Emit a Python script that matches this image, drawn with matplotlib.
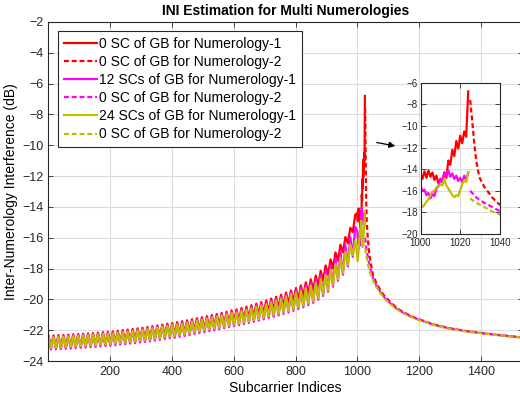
import matplotlib
matplotlib.use("Agg")
import matplotlib.pyplot as plt
import numpy as np

plt.rcParams['font.family'] = ['Liberation Sans', 'DejaVu Sans']

# peaks / troughs of the solid curves (subcarriers 1..993)
peak_sc = np.arange(1, 1000, 16)
trough_sc = np.arange(9, 990, 16)

red_hi = [-22.35, -22.34, -22.32, -22.31, -22.29, -22.27, -22.25, -22.23, -22.21, -22.19,
          -22.16, -22.13, -22.11, -22.08, -22.04, -22.00, -21.96, -21.92, -21.88, -21.84,
          -21.79, -21.74, -21.69, -21.64, -21.58, -21.53, -21.48, -21.42, -21.36, -21.29,
          -21.22, -21.16, -21.09, -21.02, -20.95, -20.88, -20.80, -20.72, -20.65, -20.56,
          -20.47, -20.38, -20.28, -20.18, -20.07, -19.95, -19.83, -19.70, -19.56, -19.42,
          -19.27, -19.10, -18.90, -18.70, -18.45, -18.15, -17.80, -17.40, -16.95, -16.45,
          -15.95, -15.35, -14.50]
red_lo = [-23.14, -23.13, -23.12, -23.10, -23.08, -23.06, -23.04, -23.02, -23.00, -22.98,
          -22.95, -22.92, -22.90, -22.86, -22.82, -22.78, -22.74, -22.70, -22.66, -22.62,
          -22.57, -22.52, -22.47, -22.41, -22.36, -22.31, -22.25, -22.19, -22.13, -22.06,
          -21.99, -21.93, -21.86, -21.79, -21.72, -21.64, -21.56, -21.49, -21.41, -21.32,
          -21.23, -21.13, -21.03, -20.93, -20.81, -20.69, -20.57, -20.43, -20.29, -20.15,
          -19.99, -19.80, -19.60, -19.38, -19.10, -18.78, -18.40, -17.98, -17.50, -16.95,
          -16.37, -15.63]
mag_hi = [-22.41, -22.40, -22.38, -22.37, -22.35, -22.33, -22.31, -22.29, -22.27, -22.25,
          -22.22, -22.19, -22.17, -22.15, -22.11, -22.07, -22.03, -21.99, -21.95, -21.91,
          -21.86, -21.81, -21.76, -21.71, -21.65, -21.60, -21.57, -21.51, -21.45, -21.38,
          -21.31, -21.25, -21.18, -21.11, -21.04, -20.97, -20.89, -20.81, -20.76, -20.67,
          -20.58, -20.49, -20.39, -20.29, -20.20, -20.08, -19.96, -19.83, -19.69, -19.55,
          -19.42, -19.27, -19.09, -18.90, -18.68, -18.41, -18.10, -17.74, -17.34, -16.90,
          -16.47, -15.95, -15.30]
mag_lo = [-23.25, -23.24, -23.23, -23.21, -23.19, -23.17, -23.15, -23.13, -23.11, -23.09,
          -23.06, -23.03, -23.01, -22.98, -22.94, -22.91, -22.87, -22.84, -22.80, -22.77,
          -22.72, -22.68, -22.63, -22.58, -22.53, -22.49, -22.43, -22.38, -22.32, -22.26,
          -22.19, -22.14, -22.07, -22.01, -21.94, -21.87, -21.80, -21.74, -21.68, -21.61,
          -21.54, -21.46, -21.38, -21.30, -21.21, -21.13, -21.05, -20.95, -20.85, -20.75,
          -20.64, -20.52, -20.38, -20.23, -20.03, -19.78, -19.50, -19.18, -18.80, -18.40,
          -17.87, -17.23]
oli_hi = [-22.46, -22.45, -22.43, -22.42, -22.40, -22.38, -22.36, -22.34, -22.32, -22.30,
          -22.27, -22.24, -22.22, -22.21, -22.17, -22.13, -22.09, -22.05, -22.01, -21.97,
          -21.92, -21.87, -21.82, -21.77, -21.71, -21.66, -21.64, -21.58, -21.52, -21.45,
          -21.38, -21.32, -21.25, -21.18, -21.11, -21.04, -20.96, -20.88, -20.85, -20.76,
          -20.67, -20.58, -20.48, -20.38, -20.32, -20.20, -20.08, -19.95, -19.81, -19.67,
          -19.57, -19.43, -19.27, -19.10, -18.91, -18.68, -18.40, -18.08, -17.71, -17.30,
          -16.90, -16.45, -16.20]
oli_lo = [-23.15, -23.14, -23.13, -23.11, -23.09, -23.07, -23.05, -23.03, -23.01, -22.99,
          -22.96, -22.93, -22.91, -22.88, -22.84, -22.81, -22.77, -22.74, -22.70, -22.67,
          -22.62, -22.58, -22.53, -22.48, -22.43, -22.39, -22.33, -22.28, -22.22, -22.16,
          -22.09, -22.04, -21.97, -21.91, -21.84, -21.77, -21.70, -21.64, -21.58, -21.51,
          -21.44, -21.36, -21.28, -21.20, -21.11, -21.03, -20.95, -20.85, -20.75, -20.65,
          -20.54, -20.42, -20.28, -20.13, -19.93, -19.68, -19.40, -19.08, -18.70, -18.30,
          -17.77, -17.13]

# band edge, subcarrier by subcarrier (from the zoomed inset)
edge_sc = np.arange(1000, 1025)
red_edge = [-14.4, -14.9, -14.2, -14.8, -14.1, -14.7, -14.3, -15.0, -14.6, -15.3,
            -14.9, -15.2, -14.3, -14.8, -13.2, -13.6, -12.2, -12.8, -11.4, -12.1,
            -10.9, -11.6, -10.5, -11.0, -6.8]
mag_edge = [-15.6, -16.0, -15.9, -16.4, -16.2, -16.7, -16.3, -16.5, -15.8, -15.6,
            -14.9, -15.0, -14.3, -14.6, -14.1, -14.7, -14.4, -14.9, -14.6, -15.1,
            -14.8, -15.2, -14.6, -15.0, -14.3]
oli_edge = [-17.3, -17.5, -17.3, -17.0, -16.8, -16.4, -16.1, -16.0, -15.7, -15.6,
            -15.4, -15.5, -14.9, -15.5, -15.8, -16.1, -16.4, -16.6, -16.4, -16.5,
            -15.9, -15.4, -15.0, -15.2, -14.3]

# numerology-2 (dashed) curves
n2_sc = [1025, 1026, 1027, 1028, 1029, 1030, 1032, 1034, 1036, 1038, 1040, 1050, 1060,
         1075, 1090, 1110, 1130, 1150, 1175, 1200, 1250, 1300, 1350, 1400, 1450, 1500, 1536]
red_n2 = [-7.6, -9.5, -11.5, -13.2, -14.2, -14.9, -15.6, -16.1, -16.6, -17.0, -17.3, -18.4,
          -18.9, -19.45, -19.85, -20.25, -20.6, -20.85, -21.1, -21.3, -21.65, -21.88, -22.05,
          -22.18, -22.3, -22.4, -22.47]
mag_n2 = [-16.0, -16.2, -16.4, -16.6, -16.75, -16.9, -17.1, -17.3, -17.5, -17.7, -17.9, -18.6,
          -19.05, -19.55, -19.95, -20.32, -20.65, -20.9, -21.13, -21.33, -21.67, -21.9, -22.06,
          -22.19, -22.31, -22.41, -22.48]
oli_n2 = [-16.7, -16.85, -17.0, -17.1, -17.2, -17.3, -17.5, -17.7, -17.9, -18.05, -18.2, -18.75,
          -19.15, -19.62, -20.0, -20.37, -20.68, -20.93, -21.16, -21.35, -21.69, -21.92, -22.08,
          -22.2, -22.32, -22.42, -22.49]

labels = ['0 SC of GB for Numerology-1', '0 SC of GB for Numerology-2',
          '12 SCs of GB for Numerology-1', '0 SC of GB for Numerology-2',
          '24 SCs of GB for Numerology-1', '0 SC of GB for Numerology-2']


def zigzag(hi, lo, edge):
    x = np.empty(len(peak_sc) + len(trough_sc))
    y = np.empty_like(x)
    x[0::2], x[1::2] = peak_sc, trough_sc
    y[0::2], y[1::2] = hi, lo
    return np.concatenate([x, edge_sc]), np.concatenate([y, edge])


series = [
    (zigzag(red_hi, red_lo, red_edge), (n2_sc, red_n2), 'red'),
    (zigzag(mag_hi, mag_lo, mag_edge), (n2_sc, mag_n2), 'magenta'),
    (zigzag(oli_hi, oli_lo, oli_edge), (n2_sc, oli_n2), '#bfbf00'),
]

axcol = '#262626'


def style(ax, size):
    ax.grid(True, color='#dcdcdc', lw=0.8)
    ax.set_axisbelow(True)
    ax.tick_params(direction='in', top=True, right=True, labelsize=size,
                   colors=axcol, length=3.5, width=0.6)
    for s in ax.spines.values():
        s.set_color(axcol)
        s.set_linewidth(0.8)


fig = plt.figure(figsize=(5.2, 4.05), dpi=100)
ax = fig.add_axes([48.2 / 520, 44 / 405, 475 / 520, 339 / 405])
lw = 1.6
for (sx, sy), (dx, dy), c in series:
    ax.plot(sx, sy, color=c, lw=lw)
    ax.plot(dx, dy, color=c, lw=lw, dashes=(2.2, 1.3))
ax.set_xlim(0, 1536)
ax.set_ylim(-24, -2)
ax.set_xticks([200, 400, 600, 800, 1000, 1200, 1400])
ax.set_yticks(np.arange(-24, -1, 2))
style(ax, 9)
ax.set_title('INI Estimation for Multi Numerologies', fontsize=10, fontweight='bold', pad=5)
ax.set_xlabel('Subcarrier Indices', fontsize=10, labelpad=2)
ax.set_ylabel('Inter-Numerology Interference (dB)', fontsize=10, labelpad=3)

leg = ax.legend(labels, loc='upper left', bbox_to_anchor=(58 / 520, 1 - 31 / 405),
                bbox_transform=fig.transFigure, borderaxespad=0, fontsize=10,
                handlelength=2.4, handletextpad=0.15, borderpad=0.4, labelspacing=0.3,
                fancybox=False, framealpha=1)
leg.get_frame().set_edgecolor(axcol)
leg.get_frame().set_linewidth(0.8)

ins = fig.add_axes([420.5 / 520, 171 / 405, 79.5 / 520, 151.3 / 405])
for (sx, sy), (dx, dy), c in series:
    ins.plot(sx, sy, color=c, lw=lw)
    ins.plot(dx, dy, color=c, lw=lw, dashes=(2.2, 1.3))
ins.set_xlim(1000, 1040)
ins.set_ylim(-20, -6)
ins.set_xticks([1000, 1020, 1040])
ins.set_yticks(np.arange(-20, -5, 2))
style(ins, 7)
ins.tick_params(axis='x', pad=3)
ins.tick_params(axis='y', pad=2)

fig.add_artist(matplotlib.patches.FancyArrowPatch(
    (374 / 520, 1 - 142 / 405), (398 / 520, 1 - 146.5 / 405),
    transform=fig.transFigure, arrowstyle='-|>', mutation_scale=9, color='black', lw=0.9))

fig.savefig('out.png', dpi=100)
